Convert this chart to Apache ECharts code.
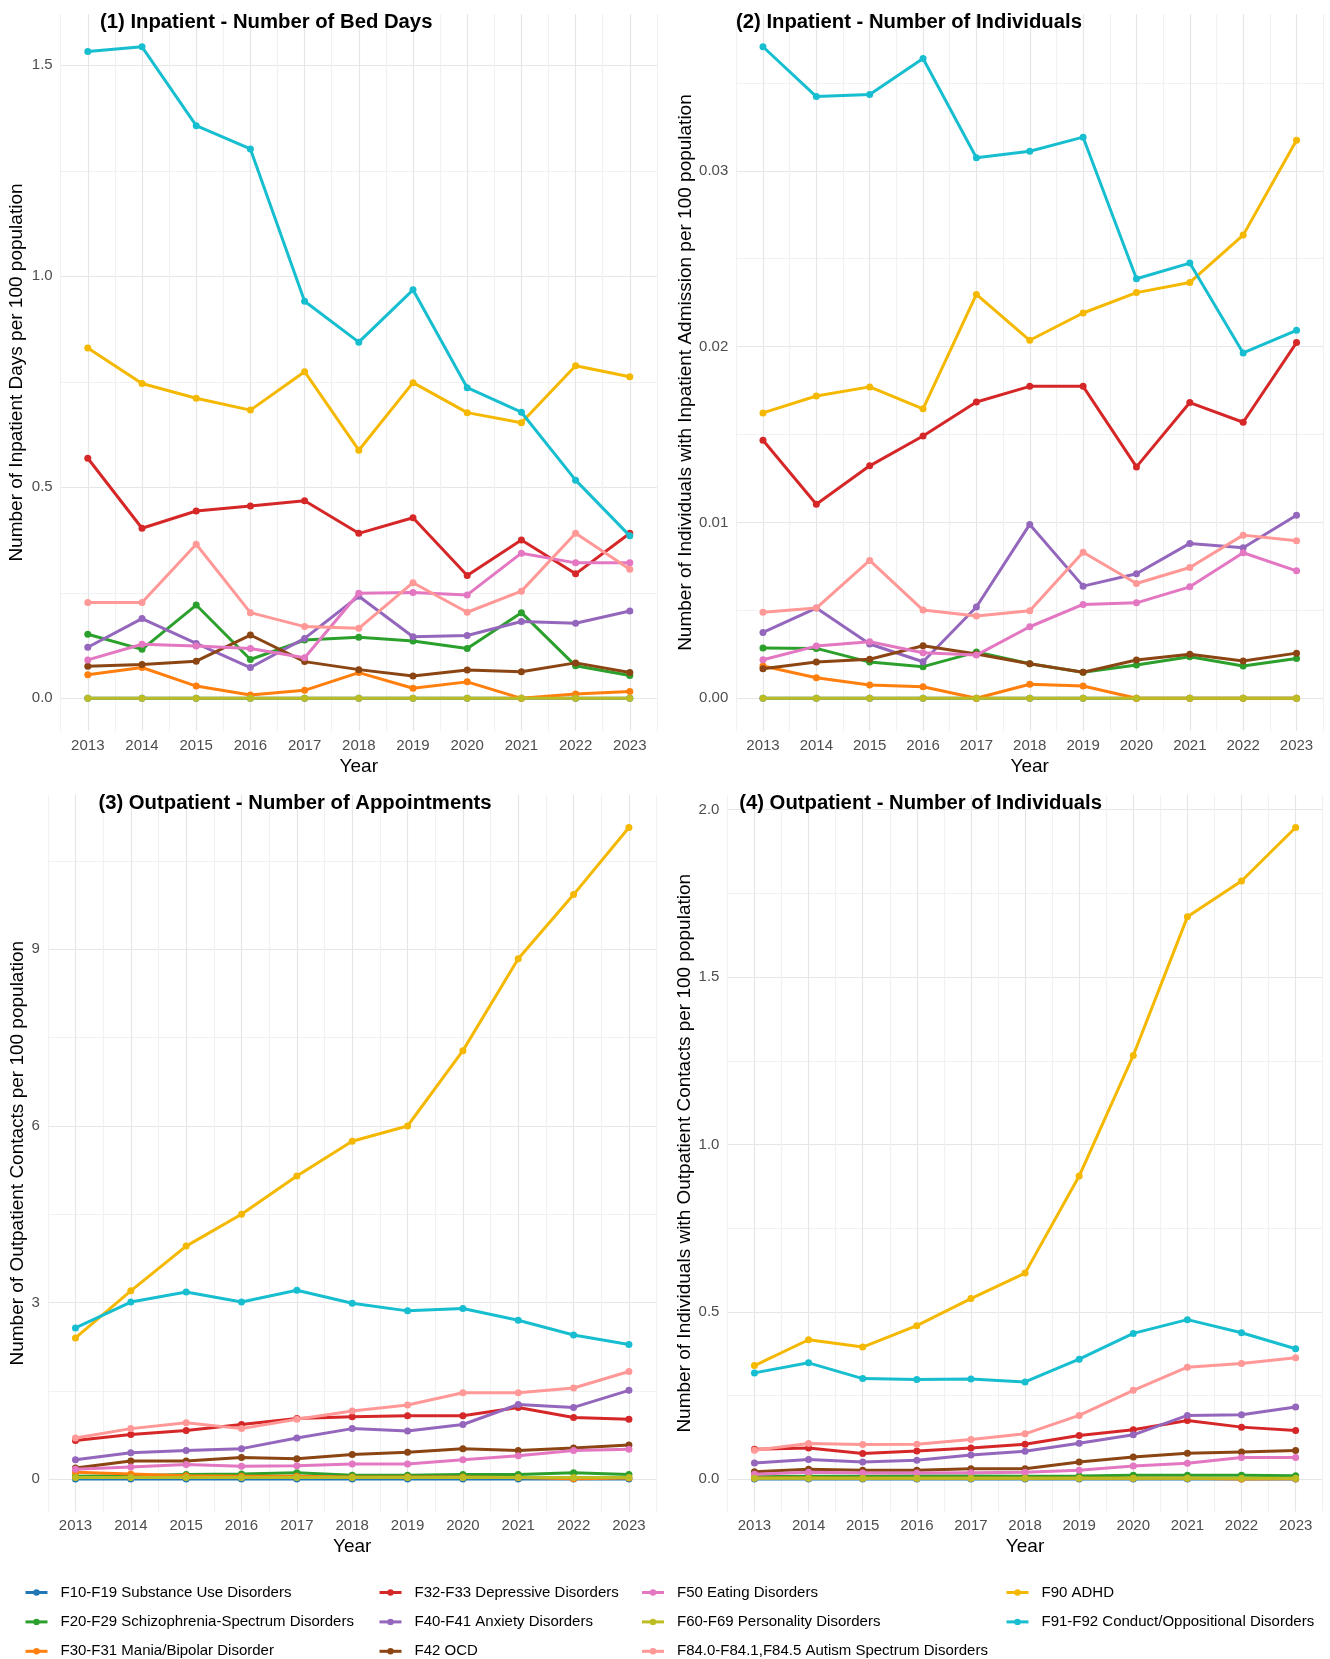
<!DOCTYPE html>
<html>
<head>
<meta charset="utf-8">
<script src="https://cdn.jsdelivr.net/npm/echarts@6/dist/echarts.min.js"></script>
<style>
html,body{margin:0;padding:0;background:#fff;}
#chart{width:1330px;height:1659px;}
</style>
</head>
<body>
<div id="chart"></div>
<script>
// ---------- DATA ----------
const years = [2013, 2014, 2015, 2016, 2017, 2018, 2019, 2020, 2021, 2022, 2023];

const disorders = [
  'F10-F19 Substance Use Disorders',
  'F20-F29 Schizophrenia-Spectrum Disorders',
  'F30-F31 Mania/Bipolar Disorder',
  'F32-F33 Depressive Disorders',
  'F40-F41 Anxiety Disorders',
  'F42 OCD',
  'F50 Eating Disorders',
  'F60-F69 Personality Disorders',
  'F84.0-F84.1,F84.5 Autism Spectrum Disorders',
  'F90 ADHD',
  'F91-F92 Conduct/Oppositional Disorders'
];

const disorderColors = ['#1f77b4', '#2ca02c', '#ff7f0e', '#d62728', '#9467bd', '#8b4513',
  '#e377c2', '#bcbd22', '#ff9896', '#f5b800', '#17becf'];

const panelTitles = [
  '(1) Inpatient - Number of Bed Days',
  '(2) Inpatient - Number of Individuals',
  '(3) Outpatient - Number of Appointments',
  '(4) Outpatient - Number of Individuals'
];

const yAxisTitles = [
  'Number of Inpatient Days per 100 population',
  'Number of Individuals with Inpatient Admission per 100 population',
  'Number of Outpatient Contacts per 100 population',
  'Number of Individuals with Outpatient Contacts per 100 population'
];

const xAxisTitle = 'Year';

// rows follow the order of `disorders`
const bedDays = [
  [0, 0, 0, 0, 0, 0, 0, 0, 0, 0, 0],
  [0.152, 0.116, 0.221, 0.092, 0.138, 0.145, 0.136, 0.118, 0.203, 0.077, 0.054],
  [0.056, 0.073, 0.029, 0.008, 0.019, 0.061, 0.024, 0.039, 0.000, 0.010, 0.016],
  [0.569, 0.403, 0.444, 0.456, 0.468, 0.391, 0.428, 0.291, 0.375, 0.295, 0.391],
  [0.121, 0.189, 0.130, 0.073, 0.142, 0.242, 0.146, 0.149, 0.182, 0.178, 0.207],
  [0.076, 0.080, 0.088, 0.150, 0.087, 0.068, 0.053, 0.067, 0.063, 0.084, 0.061],
  [0.091, 0.128, 0.124, 0.118, 0.096, 0.249, 0.251, 0.245, 0.344, 0.321, 0.321],
  [0, 0, 0, 0, 0, 0, 0, 0, 0, 0, 0],
  [0.227, 0.227, 0.365, 0.203, 0.170, 0.166, 0.274, 0.204, 0.254, 0.391, 0.306],
  [0.830, 0.746, 0.711, 0.683, 0.774, 0.588, 0.748, 0.677, 0.653, 0.788, 0.762],
  [1.533, 1.544, 1.357, 1.302, 0.941, 0.844, 0.968, 0.736, 0.678, 0.517, 0.385]
];

const inpatientIndividuals = [
  [0, 0, 0, 0, 0, 0, 0, 0, 0, 0, 0],
  [0.00286, 0.00284, 0.00206, 0.00180, 0.00263, 0.00197, 0.00148, 0.00189, 0.00236, 0.00184, 0.00227],
  [0.00184, 0.00117, 0.00076, 0.00066, 0, 0.00080, 0.00070, 0, 0, 0, 0],
  [0.01468, 0.01104, 0.01322, 0.01492, 0.01685, 0.01774, 0.01774, 0.01316, 0.01682, 0.01570, 0.02023],
  [0.00375, 0.00513, 0.00309, 0.00208, 0.00519, 0.00989, 0.00638, 0.00708, 0.00881, 0.00856, 0.01041],
  [0.00168, 0.00206, 0.00222, 0.00299, 0.00252, 0.00197, 0.00148, 0.00218, 0.00250, 0.00212, 0.00257],
  [0.00219, 0.00297, 0.00322, 0.00259, 0.00246, 0.00407, 0.00534, 0.00543, 0.00634, 0.00828, 0.00725],
  [0, 0, 0, 0, 0, 0, 0, 0, 0, 0, 0],
  [0.00490, 0.00513, 0.00784, 0.00502, 0.00468, 0.00498, 0.00831, 0.00653, 0.00744, 0.00928, 0.00896],
  [0.01623, 0.01719, 0.01771, 0.01646, 0.02297, 0.02036, 0.02191, 0.02307, 0.02365, 0.02634, 0.03174],
  [0.03705, 0.03422, 0.03434, 0.03638, 0.03074, 0.03111, 0.03191, 0.02386, 0.02475, 0.01964, 0.02093]
];

const outpatientAppointments = [
  [0.005, 0.005, 0.004, 0.004, 0.004, 0.004, 0.004, 0.004, 0.004, 0.004, 0.004],
  [0.05, 0.06, 0.08, 0.09, 0.11, 0.07, 0.07, 0.08, 0.08, 0.11, 0.08],
  [0.12, 0.09, 0.06, 0.05, 0.05, 0.04, 0.04, 0.04, 0.03, 0.01, 0.02],
  [0.66, 0.76, 0.83, 0.93, 1.03, 1.06, 1.08, 1.08, 1.22, 1.05, 1.02],
  [0.33, 0.45, 0.49, 0.52, 0.70, 0.86, 0.82, 0.93, 1.27, 1.22, 1.51],
  [0.19, 0.31, 0.31, 0.37, 0.35, 0.42, 0.46, 0.52, 0.49, 0.53, 0.58],
  [0.17, 0.21, 0.25, 0.22, 0.23, 0.26, 0.26, 0.33, 0.40, 0.49, 0.51],
  [0.03, 0.03, 0.03, 0.03, 0.03, 0.03, 0.03, 0.03, 0.03, 0.03, 0.03],
  [0.70, 0.86, 0.96, 0.86, 1.02, 1.16, 1.26, 1.47, 1.47, 1.55, 1.83],
  [2.40, 3.20, 3.96, 4.50, 5.15, 5.74, 6.00, 7.28, 8.84, 9.93, 11.07],
  [2.57, 3.01, 3.18, 3.01, 3.21, 2.99, 2.86, 2.90, 2.70, 2.45, 2.29]
];

const outpatientIndividuals = [
  [0.001, 0.001, 0.001, 0.001, 0.001, 0.001, 0.001, 0.001, 0.001, 0.001, 0.001],
  [0.008, 0.009, 0.009, 0.010, 0.010, 0.009, 0.010, 0.012, 0.012, 0.012, 0.011],
  [0.004, 0.004, 0.003, 0.003, 0.003, 0.003, 0.003, 0.003, 0.003, 0.001, 0.002],
  [0.090, 0.094, 0.077, 0.085, 0.094, 0.105, 0.131, 0.148, 0.176, 0.156, 0.146],
  [0.049, 0.059, 0.052, 0.057, 0.073, 0.084, 0.108, 0.133, 0.191, 0.193, 0.216],
  [0.023, 0.030, 0.027, 0.027, 0.032, 0.032, 0.052, 0.067, 0.078, 0.082, 0.086],
  [0.015, 0.021, 0.019, 0.019, 0.020, 0.021, 0.027, 0.040, 0.048, 0.065, 0.065],
  [0.003, 0.003, 0.003, 0.003, 0.003, 0.003, 0.003, 0.003, 0.003, 0.003, 0.003],
  [0.087, 0.107, 0.104, 0.105, 0.119, 0.136, 0.191, 0.266, 0.335, 0.346, 0.363],
  [0.340, 0.417, 0.395, 0.459, 0.540, 0.616, 0.906, 1.266, 1.680, 1.787, 1.947],
  [0.318, 0.348, 0.301, 0.298, 0.300, 0.291, 0.359, 0.436, 0.477, 0.438, 0.390]
];

const panelData = [bedDays, inpatientIndividuals, outpatientAppointments, outpatientIndividuals];
const yMajorStep = [0.5, 0.01, 3, 0.5];
const yDecimals = [1, 2, 0, 1];

// ---------- LAYOUT / STYLE ----------
const FONT = '"Liberation Sans", Arial, sans-serif';
const grids = [
  {left: 60.7, top: 14.2, width: 596.2, height: 716.7},
  {left: 736.3, top: 14.2, width: 586.9, height: 716.7},
  {left: 47.8, top: 794.9, width: 608.8, height: 716.7},
  {left: 727.4, top: 794.9, width: 595.3, height: 716.7}
];
const yNameGap = [34, 41.5, 20.5, 33];
const titlePos = [[100, 22], [736, 22], [98.4, 803.5], [739.2, 803.5]];

const isMult = (v, s) => Math.abs(v / s - Math.round(v / s)) < 1e-6;

const xAxes = grids.map((g, i) => ({
  type: 'value', gridIndex: i, min: 2012.5, max: 2023.5, interval: 0.5,
  axisLine: {show: false}, axisTick: {show: false},
  axisLabel: {
    fontSize: 15, color: '#4d4d4d', fontFamily: FONT, margin: 7,
    formatter: v => isMult(v, 1) ? String(Math.round(v)) : ''
  },
  splitLine: {show: true, lineStyle: {color: ['#f1f1f1', '#e6e6e6'], width: 1.2}},
  name: xAxisTitle, nameLocation: 'middle', nameGap: 26,
  nameTextStyle: {fontSize: 19, color: '#000', fontFamily: FONT}
}));

const yAxes = grids.map((g, i) => ({
  type: 'value', gridIndex: i,
  min: v => v.min - 0.05 * (v.max - v.min),
  max: v => v.max + 0.05 * (v.max - v.min),
  minInterval: yMajorStep[i], maxInterval: yMajorStep[i],
  axisLine: {show: false}, axisTick: {show: false},
  axisLabel: {
    fontSize: 15, color: '#4d4d4d', fontFamily: FONT, margin: 8,
    formatter: v => isMult(v, yMajorStep[i]) ? v.toFixed(yDecimals[i]) : ''
  },
  splitLine: {show: true, showMinLine: false, showMaxLine: false, lineStyle: {color: '#e6e6e6', width: 1.2}},
  minorTick: {show: false, splitNumber: 2},
  minorSplitLine: {show: true, lineStyle: {color: '#f1f1f1', width: 1.2}},
  name: yAxisTitles[i], nameLocation: 'middle', nameGap: yNameGap[i],
  nameTextStyle: {fontSize: 19, color: '#000', fontFamily: FONT}
}));

const series = [];
panelData.forEach((rows, p) => {
  rows.forEach((vals, d) => {
    series.push({
      type: 'line', name: disorders[d], xAxisIndex: p, yAxisIndex: p,
      data: years.map((y, k) => [y, vals[k]]),
      symbol: 'circle', symbolSize: 7, showSymbol: true,
      lineStyle: {width: 3, color: disorderColors[d]},
      itemStyle: {color: disorderColors[d]},
      emphasis: {disabled: true}, z: 2 + d
    });
  });
});

// legend: 4 columns, filled column-wise (3 per column)
const legendCols = [[0, 1, 2], [3, 4, 5], [6, 7, 8], [9, 10]];
const legendLeft = [24, 378, 640.5, 1005];
const legends = legendCols.map((col, c) => ({
  orient: 'vertical', left: legendLeft[c], top: 1585, padding: 0,
  itemGap: 14.4, itemWidth: 22, itemHeight: 8,
  data: col.map(k => disorders[k]),
  lineStyle: {width: 3},
  textStyle: {fontSize: 15, color: '#000', fontFamily: FONT, padding: [0, 0, 0, 8]},
  selectedMode: false
}));

const graphics = panelTitles.map((t, i) => ({
  type: 'text', x: titlePos[i][0], y: titlePos[i][1], z: 100, zlevel: 0,
  style: {text: t, fontSize: 20.3, fontWeight: 'bold', fontFamily: FONT, fill: '#000',
    verticalAlign: 'middle', align: 'left'}
}));

const chart = echarts.init(document.getElementById('chart'), null, {renderer: 'canvas'});
chart.setOption({
  backgroundColor: '#fff',
  animation: false,
  grid: grids,
  xAxis: xAxes,
  yAxis: yAxes,
  legend: legends,
  graphic: graphics,
  series: series
});
</script>
</body>
</html>
